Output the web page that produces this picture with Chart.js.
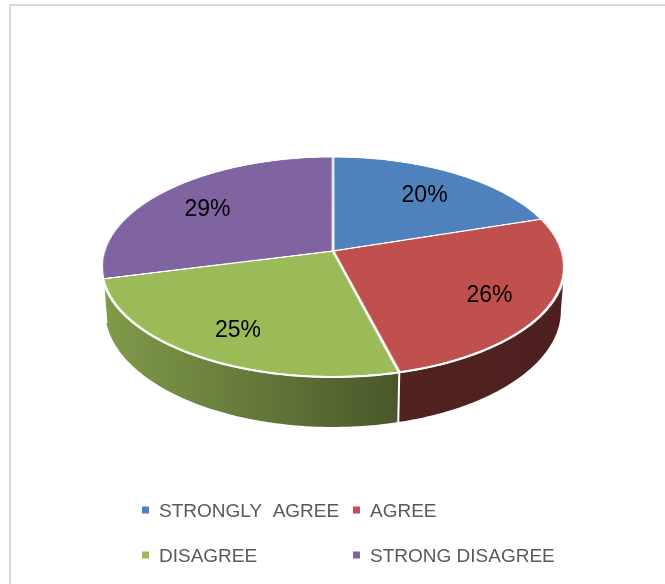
<!DOCTYPE html>
<html>
<head>
<meta charset="utf-8">
<script src="https://cdn.jsdelivr.net/npm/chart.js@4.4.1/dist/chart.umd.min.js"></script>
<style>
  html, body { margin: 0; padding: 0; background: #ffffff; overflow: hidden; width: 665px; height: 584px; }
  #frame { position: absolute; left: 9px; top: 4px; width: 720px; height: 640px;
           border-left: 2px solid #d9d9d9; border-top: 2px solid #d9d9d9; }
  #chart { position: absolute; left: 0; top: 0; }
</style>
</head>
<body>
<div id="frame"></div>
<canvas id="chart" width="665" height="584"></canvas>
<script>
// Survey responses (percent of respondents)
const categories = ['STRONGLY  AGREE', 'AGREE', 'DISAGREE', 'STRONG DISAGREE'];
const shares = [20, 26, 25, 29];
const sliceColors = ['#4f81bd', '#c0504d', '#9bbb59', '#8064a2'];

// Tilted-disc view: the flat pie (u, v on the unit circle) is projected
// with a simple perspective so the far half looks shorter than the near half.
const view = { cx: 333, e: 251, d: 71.16, g: -0.14545, a: 228.9, depth: 42.7, k: 0.985 };

function projTop(u, v) {
  const den = 1 + view.g * v;
  return [view.cx + view.a * u / den, (view.e + view.d * v) / den];
}
function projBottom(u, v) {
  const den = 1 + view.g * v;
  const p = projTop(u, v);
  return [view.cx + (p[0] - view.cx) * view.k, p[1] + view.depth / den];
}
function rowToV(y) { return (y - view.e) / (view.d - view.g * y); }

// side-wall lighting across the width of the disc
const shadeStops = [[100, 0.83], [250, 0.65], [396, 0.47], [402, 0.42], [565, 0.40]];
function shade(hex, f) {
  const n = parseInt(hex.slice(1), 16);
  const r = Math.round(((n >> 16) & 255) * f), g = Math.round(((n >> 8) & 255) * f), b = Math.round((n & 255) * f);
  return `rgb(${r},${g},${b})`;
}

const tiltPlugin = {
  id: 'tilt',
  afterDatasetsDraw(chart) {
    const arcs = chart.getDatasetMeta(0).data;
    const R = arcs[0].outerRadius, sx0 = arcs[0].x, sy0 = arcs[0].y;
    const cv = chart.canvas, ctx = chart.ctx;

    // keep the flat pie that Chart.js just drew
    const flat = document.createElement('canvas');
    flat.width = cv.width; flat.height = cv.height;
    flat.getContext('2d').drawImage(cv, 0, 0);

    ctx.save();
    ctx.setTransform(1, 0, 0, 1, 0, 0);
    ctx.clearRect(0, 0, cv.width, cv.height);

    // visible part of the rim (between the two silhouette points)
    const aL = Math.asin(-view.g), aR = Math.PI - aL;

    // side walls
    const windows = [[aL, aR], [aL + 2 * Math.PI, aR + 2 * Math.PI]];
    const boundaries = [];
    arcs.forEach((arc, i) => {
      windows.forEach(([w0, w1]) => {
        const s = Math.max(arc.startAngle, w0), t = Math.min(arc.endAngle, w1);
        if (t <= s) return;
        const grad = ctx.createLinearGradient(95, 0, 570, 0);
        shadeStops.forEach(([x, f]) => grad.addColorStop((x - 95) / 475, shade(sliceColors[i], f)));
        ctx.beginPath();
        const N = 80;
        for (let j = 0; j <= N; j++) {
          const al = s + (t - s) * j / N;
          const p = projTop(Math.cos(al), Math.sin(al));
          j === 0 ? ctx.moveTo(p[0], p[1]) : ctx.lineTo(p[0], p[1]);
        }
        for (let j = N; j >= 0; j--) {
          const al = s + (t - s) * j / N;
          const p = projBottom(Math.cos(al), Math.sin(al));
          ctx.lineTo(p[0], p[1]);
        }
        ctx.closePath();
        ctx.fillStyle = grad;
        ctx.fill();
        if (arc.endAngle < w1 && arc.endAngle > w0) boundaries.push(arc.endAngle);
      });
    });
    ctx.strokeStyle = '#ffffff';
    ctx.lineWidth = 2;
    boundaries.forEach(al => {
      const p = projTop(Math.cos(al), Math.sin(al)), q = projBottom(Math.cos(al), Math.sin(al));
      ctx.beginPath(); ctx.moveTo(p[0], p[1]); ctx.lineTo(q[0], q[1]); ctx.stroke();
    });

    // top face: each screen row takes one band of the flat pie
    ctx.imageSmoothingEnabled = true;
    ctx.imageSmoothingQuality = 'high';
    const pad = 3;
    const yTop = Math.floor(projTop(0, -1)[1]) - 1, yBot = Math.ceil(projTop(0, 1)[1]) + 1;
    for (let y = yTop; y < yBot; y++) {
      let v0 = Math.max(-1.01, rowToV(y)), v1 = Math.min(1.01, rowToV(y + 1));
      if (v1 <= v0) continue;
      const vm = (v0 + v1) / 2;
      const hw = view.a / (1 + view.g * vm) * (R + pad) / R;
      ctx.drawImage(flat, sx0 - R - pad, sy0 + v0 * R, 2 * (R + pad), (v1 - v0) * R,
                    view.cx - hw, y, 2 * hw, 1);
    }

    // white edge along the front rim
    ctx.beginPath();
    for (let j = 0; j <= 120; j++) {
      const al = aL + (aR - aL) * j / 120;
      const p = projTop(Math.cos(al), Math.sin(al));
      j === 0 ? ctx.moveTo(p[0], p[1]) : ctx.lineTo(p[0], p[1]);
    }
    ctx.lineWidth = 2;
    ctx.stroke();

    // percentage labels
    const total = shares.reduce((s, x) => s + x, 0);
    ctx.fillStyle = '#000000';
    ctx.font = '23px "Liberation Sans", Arial, sans-serif';
    ctx.textAlign = 'center';
    ctx.textBaseline = 'middle';
    arcs.forEach((arc, i) => {
      const mid = (arc.startAngle + arc.endAngle) / 2, f = 0.74;
      const p = projTop(f * Math.cos(mid), f * Math.sin(mid));
      ctx.fillText(Math.round(shares[i] / total * 100) + '%', p[0], p[1] + 4);
    });
    ctx.restore();
  },
  afterDraw(chart) {
    // two-column legend under the disc
    const ctx = chart.ctx;
    const colX = [142, 353], rowBase = [516.5, 561.5];
    ctx.save();
    ctx.font = '19px "Liberation Sans", Arial, sans-serif';
    ctx.textAlign = 'left';
    ctx.textBaseline = 'alphabetic';
    categories.forEach((label, i) => {
      const x = colX[i % 2], y = rowBase[Math.floor(i / 2)];
      ctx.fillStyle = sliceColors[i];
      ctx.fillRect(x, y - 10, 7, 7);
      ctx.fillStyle = '#595959';
      ctx.fillText(label, x + 17, y);
    });
    ctx.restore();
  }
};

new Chart(document.getElementById('chart'), {
  type: 'pie',
  data: {
    labels: categories,
    datasets: [{
      data: shares,
      backgroundColor: sliceColors,
      borderColor: '#ffffff',
      borderWidth: 2.5,
      radius: 229
    }]
  },
  options: {
    responsive: false,
    animation: false,
    events: [],
    layout: { padding: 0 },
    plugins: { legend: { display: false }, tooltip: { enabled: false } }
  },
  plugins: [tiltPlugin]
});
</script>
</body>
</html>
